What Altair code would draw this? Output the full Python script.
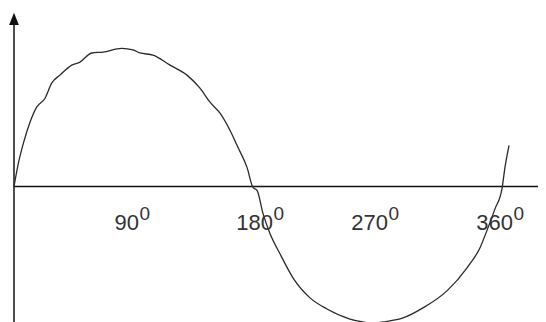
import altair as alt
import pandas as pd

# Curve: angle (degrees) and amplitude (peak = 1)
angle = [0, 3.2, 6.9, 11.8, 16.7, 22.9, 27.8, 33.9, 42.6, 48.7, 57.3, 65.7,
         79.5, 87.8, 93.0, 102.5, 115.1, 127.6, 137.2, 144.6, 152.0, 159.3,
         165.2, 171.9, 176.3, 179.3, 183.7, 188.9, 196.2, 205.8, 218.4, 230.9,
         247.9, 257.5, 265.0, 272.2, 287.0, 301.7, 319.4, 334.2, 343.8, 349.7,
         354.9, 360.0, 362.2, 365.2]
amplitude = [0.0, 0.168, 0.314, 0.467, 0.577, 0.642, 0.752, 0.810, 0.883, 0.905,
             0.971, 0.978, 1.005, 0.993, 0.971, 0.956, 0.883, 0.810, 0.715, 0.613,
             0.533, 0.409, 0.285, 0.139, -0.007, -0.029, -0.197, -0.343, -0.489,
             -0.664, -0.810, -0.891, -0.964, -0.985, -0.995, -0.985, -0.956,
             -0.883, -0.759, -0.591, -0.445, -0.299, -0.161, -0.015, 0.139, 0.299]

# Tick labels and where they sit along the axis (degrees, right edge of the number)
tick_labels = ["90", "180", "270", "360"]
tick_label_pos = [92.2, 191.0, 275.9, 368.1]
superscript = ["0", "0", "0", "0"]

# plot area 530 x 314 starting at page (8, 8)
x_domain = [-4.426, 386.56]
y_domain = [-0.9855, 1.2982]
x_axis_end = 386.56
y_axis_top = 1.22

curve = pd.DataFrame({"angle": angle, "amplitude": amplitude})
labels = pd.DataFrame({"label": tick_labels, "pos": tick_label_pos, "sup": superscript})

xs = alt.Scale(domain=x_domain, nice=False, zero=False)
ys = alt.Scale(domain=y_domain, nice=False, zero=False)

FONT = "Liberation Sans"

x_axis = alt.Chart().mark_rule(color="#111", strokeWidth=1.5).encode(
    x=alt.datum(0, scale=xs, axis=None),
    x2=alt.datum(x_axis_end),
    y=alt.datum(0, scale=ys, axis=None),
)

y_axis = alt.Chart().mark_rule(color="#222", strokeWidth=1.6).encode(
    x=alt.datum(0, scale=xs, axis=None),
    y=alt.datum(y_domain[0], scale=ys, axis=None),
    y2=alt.datum(y_axis_top),
)

arrow = alt.Chart().mark_point(
    shape="M-0.8,1L0.8,1L0,-1Z", filled=True, color="#111", size=150, opacity=1
).encode(
    x=alt.datum(0, scale=xs, axis=None),
    y=alt.datum(y_axis_top, scale=ys, axis=None),
)

wave = alt.Chart(curve).mark_line(
    color="#2a2a2a", strokeWidth=1.3, interpolate="monotone", clip=False
).encode(
    x=alt.X("angle:Q", scale=xs, axis=None),
    y=alt.Y("amplitude:Q", scale=ys, axis=None),
    order="angle:Q",
)

main_text = alt.Chart(labels).mark_text(
    font=FONT, fontSize=22, color="#333", align="right", baseline="alphabetic", dy=43.5
).encode(
    x=alt.X("pos:Q", scale=xs, axis=None),
    y=alt.datum(0, scale=ys, axis=None),
    text="label:N",
)

sup_text = alt.Chart(labels).mark_text(
    font=FONT, fontSize=19, color="#333", align="left", baseline="alphabetic",
    dx=0.5, dy=33.5
).encode(
    x=alt.X("pos:Q", scale=xs, axis=None),
    y=alt.datum(0, scale=ys, axis=None),
    text="sup:N",
)

chart = alt.layer(x_axis, y_axis, arrow, wave, main_text, sup_text).properties(
    width=530,
    height=314,
    autosize=alt.AutoSizeParams(type="none"),
    padding=0,
    background="white",
).configure_view(stroke=None)

chart.save("out.html", embed_options={"renderer": "svg", "actions": False})
